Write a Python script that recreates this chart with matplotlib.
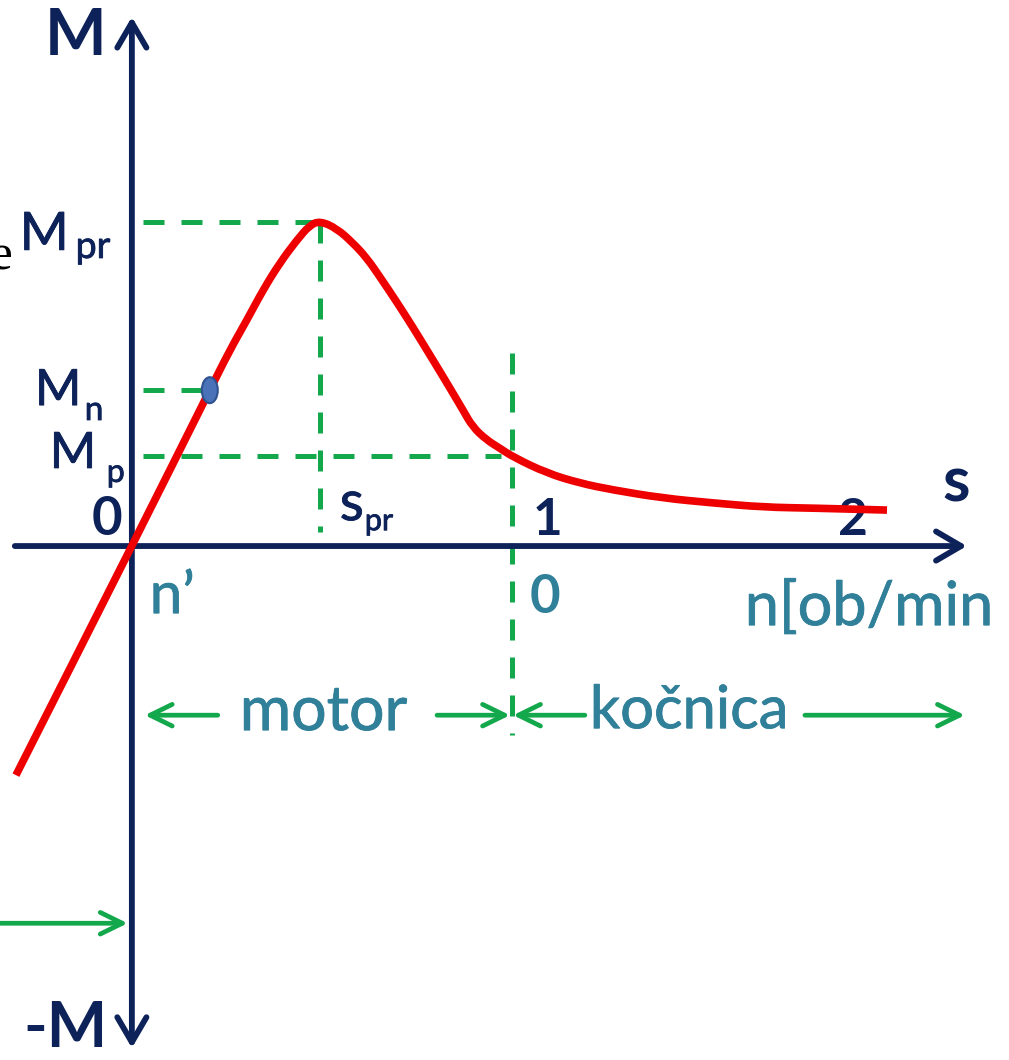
import matplotlib
matplotlib.use("Agg")
import numpy as np
from matplotlib import pyplot as plt
from matplotlib.patches import Ellipse, PathPatch
from matplotlib.path import Path
import matplotlib.patheffects as pe

plt.rcParams['font.family'] = ['Lato', 'DejaVu Sans']

## Torque-slip characteristic (slip s, torque relative to M_pr) ##
slip = [-0.305, 0.0, 0.205, 0.258, 0.303, 0.345, 0.389, 0.434, 0.468, 0.495,
        0.539, 0.582, 0.618, 0.653, 0.697, 0.739, 0.784, 0.829, 0.871, 0.897,
        0.934, 0.968, 1.003, 1.092, 1.179, 1.266, 1.397, 1.529, 1.661, 1.792,
        1.987]
torque = [-0.707, 0.0, 0.481, 0.605, 0.698, 0.790, 0.873, 0.944, 0.990, 1.003,
          0.980, 0.935, 0.889, 0.830, 0.753, 0.676, 0.590, 0.503, 0.420, 0.367,
          0.327, 0.302, 0.275, 0.225, 0.194, 0.173, 0.148, 0.133, 0.120, 0.117,
          0.111]

# characteristic points
s_pr, M_pr = 0.495, 1.0
s_n, M_n = 0.205, 0.481
s_p, M_p = 0.97, 0.278
s_stop = 1.0

navy = '#0d2258'
teal = '#31809a'
green = '#13a84c'
red = '#ee0000'

fig = plt.figure(figsize=(10.09, 10.6), dpi=100)
ax = fig.add_axes([0, 0, 1, 1])
ax.set_xlim(-0.347, 2.308)
ax.set_ylim(-1.586, 1.685)
ax.axis('off')

# dashed guide lines
dash = dict(color=green, lw=3.6, linestyle=(0, (4.2, 3.4)), zorder=2)
ax.plot([0.03, s_pr], [M_pr, M_pr], **dash)
ax.plot([s_pr, s_pr], [M_pr, 0.043], **dash)
ax.plot([0.03, s_n], [M_n, M_n], **dash)
ax.plot([0.03, s_p], [M_p, M_p], **dash)
ax.plot([s_stop, s_stop], [0.596, -0.583], **dash)

# axes with arrowheads
axis_arrow = dict(arrowstyle='->,head_length=0.6,head_width=0.35', lw=4.2,
                  color=navy, mutation_scale=30, shrinkA=0, shrinkB=0)
ax.annotate('', xy=(2.197, 0), xytext=(-0.308, 0), arrowprops=axis_arrow, zorder=3)
ax.annotate('', xy=(0, 1.633), xytext=(0, 0), arrowprops=axis_arrow, zorder=3)
ax.annotate('', xy=(0, -1.549), xytext=(0, 0), arrowprops=axis_arrow, zorder=3)

# the characteristic, drawn as a smooth quadratic path through the points
pts = np.column_stack([slip, torque])
mids = (pts[:-1] + pts[1:]) / 2
verts = [pts[0], mids[0]]
codes = [Path.MOVETO, Path.LINETO]
for i in range(1, len(pts) - 1):
    verts += [pts[i], mids[i]]
    codes += [Path.CURVE3, Path.CURVE3]
verts.append(pts[-1])
codes.append(Path.LINETO)
ax.add_patch(PathPatch(Path(verts, codes), facecolor='none', edgecolor=red,
                       lw=5.5, capstyle='butt', joinstyle='round', zorder=4))
ax.add_patch(Ellipse((s_n, M_n), 0.042, 0.080, facecolor='#4a72b8',
                     edgecolor='#2f528f', lw=1.5, zorder=5))

# region arrows
green_arrow = dict(arrowstyle='->,head_length=0.53,head_width=0.26', lw=3.4,
                   color=green, mutation_scale=30, shrinkA=0, shrinkB=0)
y_reg = -0.522
for tail, head in [(0.226, 0.034), (0.803, 0.995), (1.192, 1.003), (1.771, 2.192)]:
    ax.annotate('', xy=(head, y_reg), xytext=(tail, y_reg), arrowprops=green_arrow)
ax.annotate('', xy=(-0.011, -1.164), xytext=(-0.36, -1.164), arrowprops=green_arrow)

# labels
def label(x, y, s, color, size, bold=False, **kw):
    t = ax.text(x, y, s, color=color, fontsize=size,
                fontweight='bold' if bold else 'normal', **kw)
    if not bold:
        t.set_path_effects([pe.withStroke(linewidth=0.6, foreground=color)])
    return t

label(-0.230, 1.515, 'M', navy, 47, bold=True)
label(-0.285, -1.546, '-M', navy, 46, bold=True)
ax.text(-0.313, 0.852, 'e', color='black', fontsize=37, ha='right',
        family=['Liberation Serif'])
label(-0.295, 0.914, 'M', navy, 38)
label(-0.148, 0.889, 'pr', navy, 27)
label(-0.255, 0.435, 'M', navy, 36)
label(-0.124, 0.389, 'n', navy, 24)
label(-0.216, 0.241, 'M', navy, 36)
label(-0.066, 0.198, 'p', navy, 23)
label(-0.105, 0.034, '0', navy, 38, bold=True)
label(0.047, -0.207, 'n\u2019', teal, 42)
label(0.547, 0.080, 's', navy, 40)
label(0.613, 0.049, 'pr', navy, 22)
label(1.055, 0.034, '1', navy, 37, bold=True)
label(1.858, 0.034, '2', navy, 37, bold=True)
label(2.134, 0.136, 's', navy, 45, bold=True)
label(1.047, -0.207, '0', teal, 38, bold=True)
label(1.613, -0.244, 'n[ob/min', teal, 44)
label(0.284, -0.568, 'motor', teal, 45)
label(1.205, -0.562, 'kočnica', teal, 43)

fig.savefig('out.png', dpi=100)
